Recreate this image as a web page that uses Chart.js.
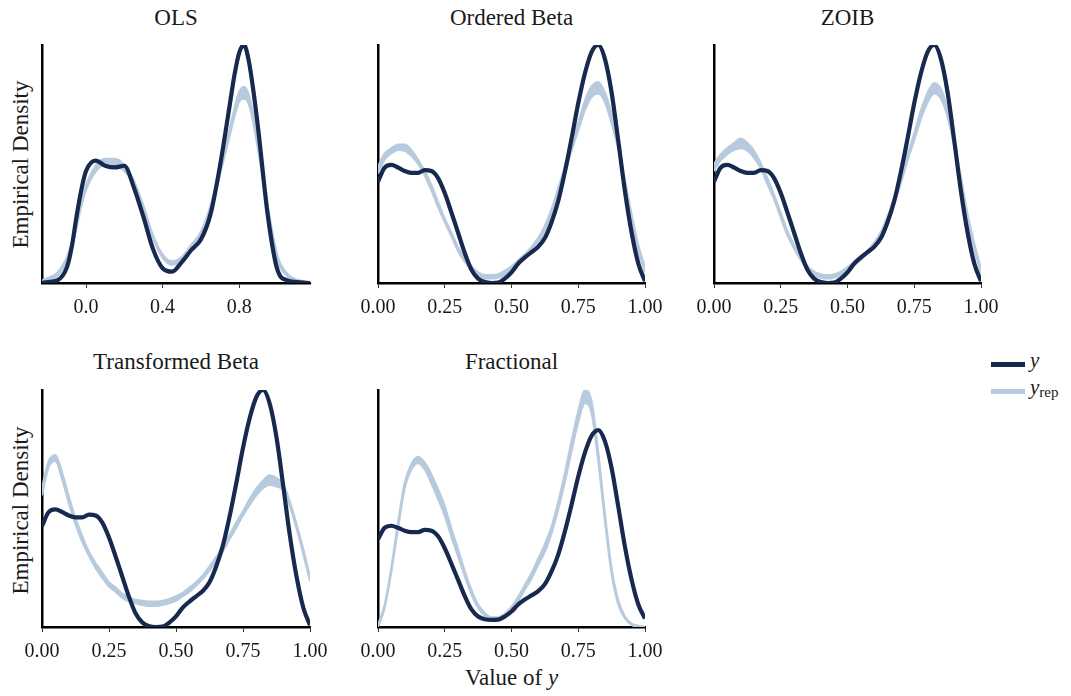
<!DOCTYPE html>
<html>
<head>
<meta charset="utf-8">
<script src="https://cdn.jsdelivr.net/npm/chart.js"></script>
<style>
  body { margin: 0; background: #fff; }
  #page { position: relative; width: 1071px; height: 696px; font-family: 'Liberation Serif', serif; color: #1a1a1a; overflow: hidden; }
  #page canvas { position: absolute; }
  .title { position: absolute; width: 300px; font-size: 23px; line-height: 23px; text-align: center; white-space: nowrap; }
  .ylab { position: absolute; width: 260px; font-size: 23px; line-height: 23px; text-align: center; white-space: nowrap; transform: rotate(-90deg); }
  .key { position: absolute; width: 34px; height: 5px; }
  .keytext { position: absolute; font-size: 21px; line-height: 21px; font-style: italic; white-space: nowrap; }
  .keytext span { font-style: normal; font-size: 15px; position: relative; top: 3px; }
</style>
</head>
<body>
<div id="page">
  <div class="title" style="left:26px; top:6px">OLS</div>
  <div class="title" style="left:361.5px; top:6px">Ordered Beta</div>
  <div class="title" style="left:697.5px; top:6px">ZOIB</div>
  <div class="title" style="left:26px; top:350px">Transformed Beta</div>
  <div class="title" style="left:361.5px; top:350px">Fractional</div>
  <div class="ylab" style="left:-110.5px; top:152.5px">Empirical Density</div>
  <div class="ylab" style="left:-110.5px; top:498.5px">Empirical Density</div>
  <div class="title" style="left:361.5px; top:666px">Value of <i>y</i></div>
  <div class="key" id="keyObs" style="left:991px; top:362px"></div>
  <div class="key" id="keyRep" style="left:991px; top:389px"></div>
  <div class="keytext" style="left:1030px; top:350px">y</div>
  <div class="keytext" style="left:1030px; top:377px">y<span>rep</span></div>
</div>
<script>
// evaluation grid on [0, 1] shared by the bounded models
const unitX = [0, 0.025, 0.05, 0.075, 0.1, 0.125, 0.15, 0.175, 0.2, 0.225, 0.25, 0.275, 0.3, 0.325, 0.35,
  0.375, 0.4, 0.425, 0.45, 0.475, 0.5, 0.525, 0.55, 0.575, 0.6, 0.625, 0.65, 0.675, 0.7, 0.725, 0.75,
  0.775, 0.8, 0.825, 0.85, 0.875, 0.9, 0.925, 0.95, 0.975, 1];
// OLS densities run past the unit interval
const olsX = [-0.23, -0.2, -0.15, -0.1, -0.075, -0.05, -0.025, 0, 0.05, 0.1, 0.15, 0.2, 0.25, 0.3, 0.35,
  0.4, 0.45, 0.5, 0.55, 0.6, 0.65, 0.7, 0.75, 0.775, 0.8, 0.825, 0.85, 0.875, 0.9, 0.95, 1.0, 1.05, 1.1, 1.17];

const unitTicks = [0, 0.25, 0.5, 0.75, 1];
const olsTicks = [0, 0.4, 0.8];

// observed y density
const yObs = [1.25, 1.41, 1.44, 1.41, 1.37, 1.35, 1.35, 1.38, 1.37, 1.29, 1.12, 0.90, 0.67, 0.44, 0.25,
  0.15, 0.11, 0.10, 0.105, 0.15, 0.22, 0.32, 0.39, 0.45, 0.51, 0.61, 0.79, 1.03, 1.36, 1.74, 2.14,
  2.48, 2.72, 2.80, 2.64, 2.26, 1.71, 1.14, 0.67, 0.32, 0.12];
const olsObs = [0, 0.01, 0.03, 0.18, 0.41, 0.76, 1.07, 1.29, 1.41, 1.35, 1.33, 1.35, 1.10, 0.76, 0.39,
  0.17, 0.13, 0.24, 0.38, 0.50, 0.79, 1.35, 2.04, 2.39, 2.65, 2.74, 2.56, 2.20, 1.76, 0.77, 0.15, 0.03, 0.01, 0];

// envelope of the replicated densities (upper / lower)
const olsRepHi = [0.03, 0.06, 0.12, 0.30, 0.47, 0.69, 0.94, 1.13, 1.35, 1.43, 1.43, 1.36, 1.18, 0.89, 0.55,
  0.33, 0.25, 0.30, 0.44, 0.59, 0.89, 1.32, 1.77, 2.01, 2.20, 2.26, 2.17, 1.93, 1.60, 0.88, 0.32, 0.11, 0.04, 0.01];
const olsRepLo = [0.01, 0.03, 0.08, 0.25, 0.41, 0.63, 0.88, 1.07, 1.28, 1.36, 1.35, 1.29, 1.13, 0.84, 0.51,
  0.29, 0.21, 0.26, 0.40, 0.54, 0.84, 1.25, 1.69, 1.91, 2.09, 2.12, 2.06, 1.83, 1.51, 0.81, 0.26, 0.08, 0.02, 0.01];

const ordRepHi = [1.42, 1.57, 1.63, 1.67, 1.67, 1.61, 1.50, 1.37, 1.21, 1.02, 0.83, 0.67, 0.51, 0.38, 0.29,
  0.22, 0.19, 0.19, 0.20, 0.24, 0.29, 0.36, 0.43, 0.51, 0.61, 0.75, 0.94, 1.18, 1.42, 1.68, 1.92,
  2.17, 2.33, 2.38, 2.26, 2.02, 1.69, 1.27, 0.88, 0.53, 0.28];
const ordRepLo = [1.34, 1.50, 1.57, 1.61, 1.60, 1.54, 1.45, 1.32, 1.15, 0.96, 0.79, 0.63, 0.46, 0.34, 0.25,
  0.18, 0.15, 0.15, 0.16, 0.19, 0.25, 0.32, 0.38, 0.46, 0.56, 0.69, 0.88, 1.11, 1.36, 1.60, 1.83,
  2.06, 2.21, 2.25, 2.15, 1.91, 1.61, 1.19, 0.82, 0.46, 0.22];

const zoibRepHi = [1.45, 1.56, 1.63, 1.69, 1.74, 1.69, 1.60, 1.46, 1.29, 1.10, 0.90, 0.69, 0.53, 0.40, 0.29,
  0.23, 0.20, 0.19, 0.20, 0.23, 0.28, 0.34, 0.40, 0.47, 0.56, 0.68, 0.86, 1.07, 1.30, 1.56, 1.80,
  2.06, 2.26, 2.37, 2.30, 2.07, 1.72, 1.30, 0.88, 0.55, 0.26];
const zoibRepLo = [1.37, 1.49, 1.56, 1.61, 1.63, 1.60, 1.52, 1.40, 1.22, 1.05, 0.84, 0.64, 0.49, 0.36, 0.26,
  0.19, 0.16, 0.15, 0.16, 0.19, 0.24, 0.30, 0.36, 0.43, 0.51, 0.63, 0.80, 1.00, 1.23, 1.49, 1.72,
  1.96, 2.15, 2.25, 2.19, 1.98, 1.64, 1.22, 0.82, 0.48, 0.21];

const tbRepHi = [1.69, 1.99, 2.06, 1.86, 1.59, 1.34, 1.14, 0.96, 0.83, 0.72, 0.61, 0.55, 0.48, 0.44, 0.41,
  0.40, 0.39, 0.39, 0.40, 0.42, 0.45, 0.49, 0.55, 0.61, 0.69, 0.79, 0.90, 1.02, 1.15, 1.29, 1.42,
  1.56, 1.68, 1.77, 1.83, 1.80, 1.73, 1.53, 1.27, 0.99, 0.67];
const tbRepLo = [1.60, 1.92, 1.99, 1.78, 1.51, 1.27, 1.07, 0.91, 0.77, 0.66, 0.56, 0.50, 0.43, 0.39, 0.37,
  0.35, 0.34, 0.34, 0.35, 0.37, 0.40, 0.45, 0.50, 0.57, 0.65, 0.74, 0.85, 0.96, 1.10, 1.23, 1.37,
  1.49, 1.60, 1.68, 1.72, 1.70, 1.66, 1.47, 1.22, 0.93, 0.62];

const fracRepHi = [0.03, 0.32, 0.85, 1.49, 2.05, 2.32, 2.42, 2.34, 2.17, 1.96, 1.72, 1.40, 1.11, 0.80, 0.53,
  0.32, 0.20, 0.14, 0.14, 0.19, 0.29, 0.43, 0.60, 0.77, 0.97, 1.18, 1.43, 1.78, 2.19, 2.65, 3.07,
  3.37, 3.21, 2.49, 1.61, 0.84, 0.38, 0.15, 0.05, 0.02, 0.00];
const fracRepLo = [0.00, 0.27, 0.78, 1.40, 1.97, 2.24, 2.33, 2.24, 2.04, 1.82, 1.58, 1.28, 1.00, 0.72, 0.46,
  0.27, 0.16, 0.11, 0.11, 0.15, 0.24, 0.37, 0.53, 0.69, 0.88, 1.07, 1.33, 1.67, 2.06, 2.50, 2.91,
  3.18, 3.04, 2.35, 1.50, 0.75, 0.32, 0.12, 0.03, 0.00, 0.00];

const DARK = '#17294f';
const LIGHT = '#b7cade';
document.getElementById('keyObs').style.background = DARK;
document.getElementById('keyRep').style.background = LIGHT;

function pts(xs, ys) {
  return xs.map((x, i) => ({ x: x, y: ys[i] }));
}

// box = plot area in page pixels
function drawPanel(box, xs, obs, hi, lo, xMin, xMax, ticks, digits) {
  const canvas = document.createElement('canvas');
  canvas.width = box.r - box.l + 60;
  canvas.height = box.b - box.t + 48;
  canvas.style.left = (box.l - 30) + 'px';
  canvas.style.top = (box.t - 6) + 'px';
  document.getElementById('page').appendChild(canvas);
  const all = obs.concat(hi, lo);

  return new Chart(canvas, {
    type: 'line',
    data: {
      datasets: [
        { data: pts(xs, obs), borderColor: DARK, borderWidth: 4.2 },
        { data: pts(xs, hi), borderColor: LIGHT, borderWidth: 2 },
        { data: pts(xs, lo), borderColor: LIGHT, borderWidth: 2, backgroundColor: LIGHT, fill: 1 }
      ]
    },
    options: {
      responsive: false,
      animation: false,
      layout: { padding: { left: 30, right: 30, top: 6, bottom: 0 } },
      elements: {
        point: { radius: 0 },
        line: { cubicInterpolationMode: 'monotone', fill: false }
      },
      plugins: { legend: { display: false }, tooltip: { enabled: false } },
      scales: {
        x: {
          type: 'linear',
          min: xMin,
          max: xMax,
          afterBuildTicks: s => { s.ticks = ticks.map(v => ({ value: v })); },
          afterFit: s => { s.height = 42; },
          ticks: {
            callback: v => Number(v).toFixed(digits),
            font: { family: 'Liberation Serif', size: 20 },
            color: '#1a1a1a',
            padding: 8,
            maxRotation: 0,
            autoSkip: false
          },
          grid: { drawOnChartArea: false, drawTicks: true, tickLength: 5, color: '#333', lineWidth: 1 },
          border: { display: true, color: '#000', width: 2.5 }
        },
        y: {
          type: 'linear',
          min: Math.min(...all),
          max: Math.max(...all),
          afterFit: s => { s.width = 0; },
          ticks: { display: false },
          grid: { display: false },
          border: { display: true, color: '#000', width: 2.5 }
        }
      }
    }
  });
}

drawPanel({ l: 42, r: 310, t: 45, b: 283 }, olsX, olsObs, olsRepHi, olsRepLo, -0.23, 1.17, olsTicks, 1);
drawPanel({ l: 378, r: 645, t: 45, b: 283 }, unitX, yObs, ordRepHi, ordRepLo, 0, 1, unitTicks, 2);
drawPanel({ l: 714, r: 981, t: 45, b: 283 }, unitX, yObs, zoibRepHi, zoibRepLo, 0, 1, unitTicks, 2);
drawPanel({ l: 42, r: 310, t: 390, b: 627 }, unitX, yObs, tbRepHi, tbRepLo, 0, 1, unitTicks, 2);
drawPanel({ l: 378, r: 645, t: 390, b: 627 }, unitX, yObs, fracRepHi, fracRepLo, 0, 1, unitTicks, 2);
</script>
</body>
</html>
